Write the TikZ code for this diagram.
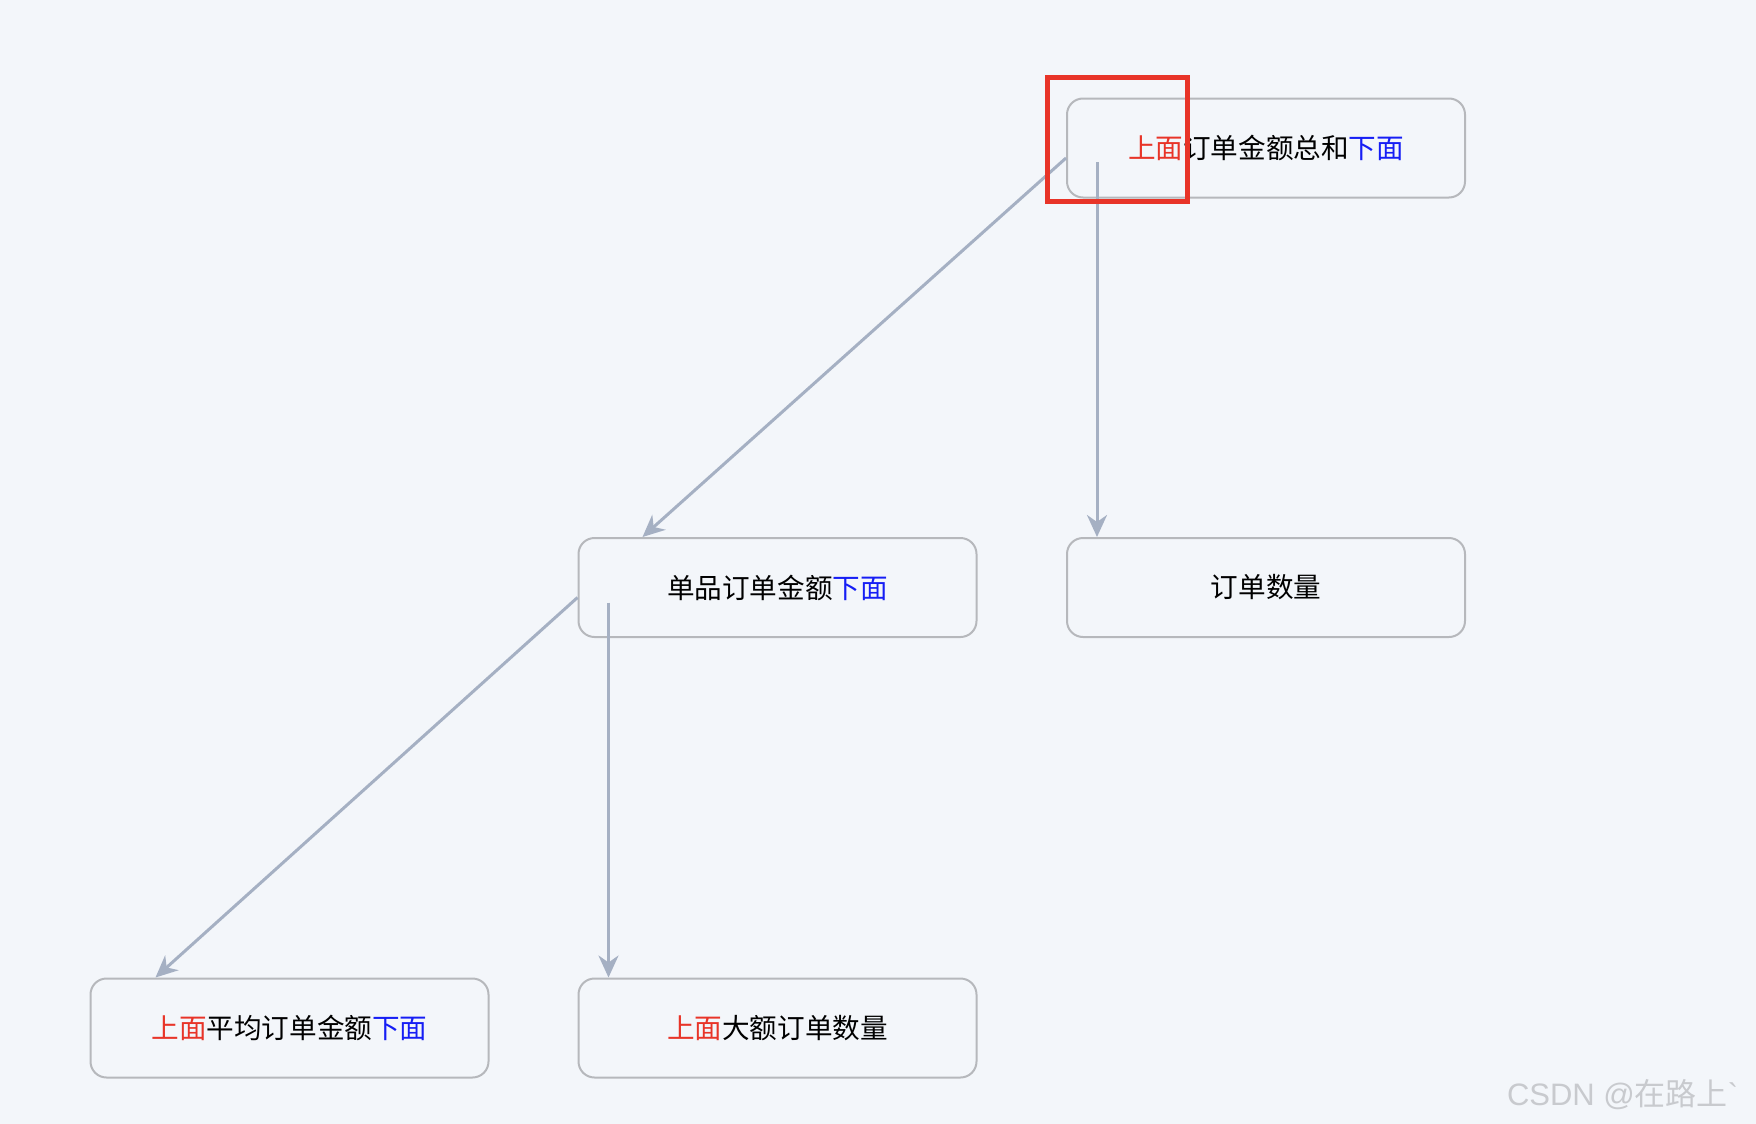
\documentclass[tikz,border=0pt]{standalone}
\usepackage{fontspec}
\setmainfont{Noto Sans CJK SC}
\newfontfamily\stampfont{Liberation Sans}
\usetikzlibrary{arrows.meta}
\definecolor{bgpaper}{RGB}{243,246,250}
\definecolor{edgegray}{RGB}{165,176,195}
\definecolor{boxgray}{RGB}{182,184,188}
\definecolor{markred}{RGB}{232,52,40}
\definecolor{wordblue}{RGB}{22,30,245}
\definecolor{stampgray}{RGB}{200,202,206}
\tikzset{
  mapnode/.style={draw=boxgray,fill=bgpaper,line width=1pt,rounded corners=8pt,
    minimum width=199pt,minimum height=49.5pt,inner sep=0pt,
    font=\fontsize{13.8}{16}\selectfont},
  mapedge/.style={draw=edgegray,line width=1.5pt,-{Stealth[length=11pt,width=10pt,inset=3.5pt]}},
}
\newcommand{\up}{\textcolor{markred}{上面}}
\newcommand{\down}{\textcolor{wordblue}{下面}}
\begin{document}
\begin{tikzpicture}[x=.5pt,y=-.5pt]
\path[use as bounding box,fill=bgpaper] (0,0) rectangle (1756,1124);
\node[mapnode] (sum) at (1266,148) {\up 订单金额总和\down};
\node[mapnode] (single) at (777.5,587.5) {单品订单金额\down};
\node[mapnode] (count) at (1266,587.5) {订单数量};
\node[mapnode] (avg) at (289.5,1028) {\up 平均订单金额\down};
\node[mapnode] (big) at (777.5,1028) {\up 大额订单数量};
\draw[mapedge] ([yshift=-5pt]sum.west) -- ([xshift=32.5pt]single.north west);
\draw[mapedge] ([xshift=15.5pt,yshift=-7pt]sum.west) -- ([xshift=15.5pt]count.north west);
\draw[mapedge] ([yshift=-5pt]single.west) -- ([xshift=33pt]avg.north west);
\draw[mapedge] ([xshift=15.5pt,yshift=-7.5pt]single.west) -- ([xshift=15.5pt]big.north west);
\node[draw=markred,line width=2.5pt,minimum width=70pt,minimum height=62pt,inner sep=0pt] (mark) at (1117,139) {};
\node[inner sep=0pt,outer sep=0pt,anchor=base west,text=stampgray,font=\fontsize{15.5}{18}\selectfont] (stamp) at (1507,1105) {{\stampfont CSDN @}在路上{\stampfont `}};
\end{tikzpicture}
\end{document}
